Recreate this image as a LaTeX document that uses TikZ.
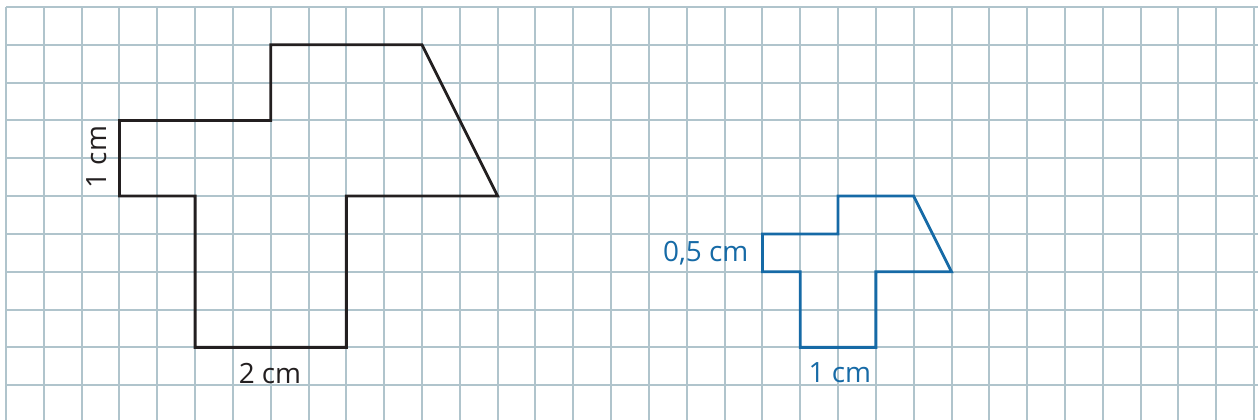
\documentclass[tikz,border=0pt]{standalone}
\usepackage{fontspec}
\setmainfont{Open Sans}
\definecolor{gridc}{RGB}{176,196,204}
\definecolor{inkc}{RGB}{35,31,32}
\definecolor{bluec}{RGB}{22,106,166}
\tikzset{
  gridline/.style={draw=gridc,line width=1.5pt},
  bigshape/.style={draw=inkc,line width=2.1pt,line join=miter},
  smallshape/.style={draw=bluec,line width=2.1pt,line join=miter},
  lbl/.style={font=\fontsize{21}{24}\selectfont,inner sep=0pt},
}
\begin{document}
\begin{tikzpicture}[x=1cm,y=-1cm]
\useasboundingbox (-0.1587,-0.185) rectangle (33.104,10.92);
\begin{scope}
\clip (-0.1587,-0.185) rectangle (33.104,10.92);
\foreach \i in {0,...,33} \draw[gridline] (\i,0) -- (\i,11);
\foreach \j in {0,...,10} \draw[gridline] (0,\j) -- (33.2,\j);
\end{scope}
\draw[bigshape] (7,1) -- (11,1) -- (13,5) -- (9,5) -- (9,9) -- (5,9) -- (5,5) -- (3,5) -- (3,3) -- (7,3) -- cycle;
\draw[smallshape] (22,5) -- (24,5) -- (25,7) -- (23,7) -- (23,9) -- (21,9) -- (21,7) -- (20,7) -- (20,6) -- (22,6) -- cycle;
\node[lbl,text=inkc,rotate=90] (l1) at (2.41,3.97) {1 cm};
\node[lbl,text=inkc] (l2) at (6.98,9.68) {2 cm};
\node[lbl,text=bluec] (l3) at (18.5,6.5) {0,5 cm};
\node[lbl,text=bluec] (l4) at (22.05,9.68) {1 cm};
\end{tikzpicture}
\end{document}
